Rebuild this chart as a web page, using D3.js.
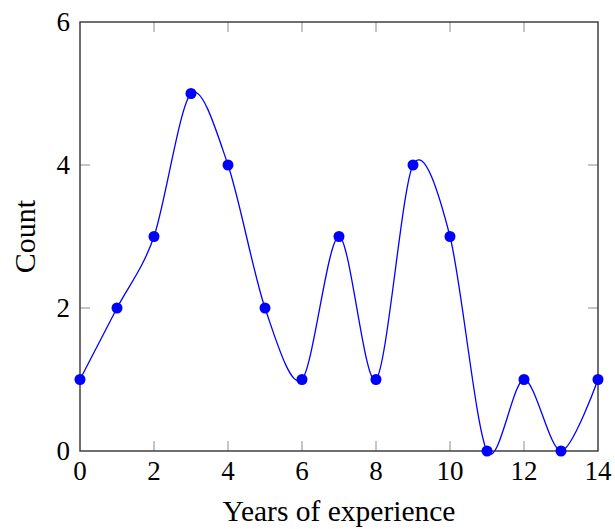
<!DOCTYPE html>
<html>
<head>
<meta charset="utf-8">
<script src="https://cdn.jsdelivr.net/npm/d3@7"></script>
<style>
  body { margin: 0; background: #fff; }
  text { font-family: "Liberation Serif", "Times New Roman", serif; fill: #000; }
</style>
</head>
<body>
<div id="chart"></div>
<script>
// data
var years = [0, 1, 2, 3, 4, 5, 6, 7, 8, 9, 10, 11, 12, 13, 14];
var counts = [1, 2, 3, 5, 4, 2, 1, 3, 1, 4, 3, 0, 1, 0, 1];
var xTicks = [0, 2, 4, 6, 8, 10, 12, 14];
var yTicks = [0, 2, 4, 6];

function init() {
    var w = 615;
    var h = 529;
    var left = 80, right = 598, top = 22, bottom = 451;

    var x = d3.scaleLinear().domain([0, 14]).range([left, right]);
    var y = d3.scaleLinear().domain([0, 6]).range([bottom, top]);

    var svg = d3.select("#chart")
        .append("svg")
        .attr("width", w)
        .attr("height", h);

    // inward ticks on all four sides
    var tickLen = 10;
    var ticks = svg.append("g")
        .attr("stroke", "#a0a0a0")
        .attr("stroke-width", 1.2);
    xTicks.forEach(function(t) {
        if (t === 0 || t === 14) return;
        ticks.append("line").attr("x1", x(t)).attr("x2", x(t)).attr("y1", bottom).attr("y2", bottom - tickLen);
        ticks.append("line").attr("x1", x(t)).attr("x2", x(t)).attr("y1", top).attr("y2", top + tickLen);
    });
    yTicks.forEach(function(t) {
        if (t === 0 || t === 6) return;
        ticks.append("line").attr("y1", y(t)).attr("y2", y(t)).attr("x1", left).attr("x2", left + tickLen);
        ticks.append("line").attr("y1", y(t)).attr("y2", y(t)).attr("x1", right).attr("x2", right - tickLen);
    });

    //the smooth line
    var line = d3.line()
        .x(function(d, i) { return x(years[i]); })
        .y(function(d) { return y(d); })
        .curve(d3.curveCardinal.tension(0.1));

    svg.append("path")
        .datum(counts)
        .attr("d", line)
        .attr("fill", "none")
        .attr("stroke", "#0000ff")
        .attr("stroke-width", 1.3);

    // box
    svg.append("rect")
        .attr("x", left).attr("y", top)
        .attr("width", right - left).attr("height", bottom - top)
        .attr("fill", "none")
        .attr("stroke", "#333")
        .attr("stroke-width", 1.4);

    svg.selectAll("circle")
        .data(counts)
        .enter()
        .append("circle")
        .attr("cx", function(d, i) { return x(years[i]); })
        .attr("cy", function(d) { return y(d); })
        .attr("r", 5.5)
        .style("fill", "#0000ff");

    // tick labels
    svg.selectAll(".xl")
        .data(xTicks)
        .enter()
        .append("text")
        .attr("x", function(d) { return x(d); })
        .attr("y", 480)
        .attr("text-anchor", "middle")
        .style("font-size", "27px")
        .text(function(d) { return d; });

    svg.selectAll(".yl")
        .data(yTicks)
        .enter()
        .append("text")
        .attr("x", 70)
        .attr("y", function(d) { return y(d) + 9; })
        .attr("text-anchor", "end")
        .style("font-size", "27px")
        .text(function(d) { return d; });

    svg.append("text")
        .attr("x", (left + right) / 2)
        .attr("y", 521)
        .attr("text-anchor", "middle")
        .style("font-size", "29.5px")
        .text("Years of experience");

    svg.append("text")
        .attr("transform", "translate(35," + ((top + bottom) / 2) + ") rotate(-90)")
        .attr("text-anchor", "middle")
        .style("font-size", "30px")
        .text("Count");
}

window.onload = init;
</script>
</body>
</html>
